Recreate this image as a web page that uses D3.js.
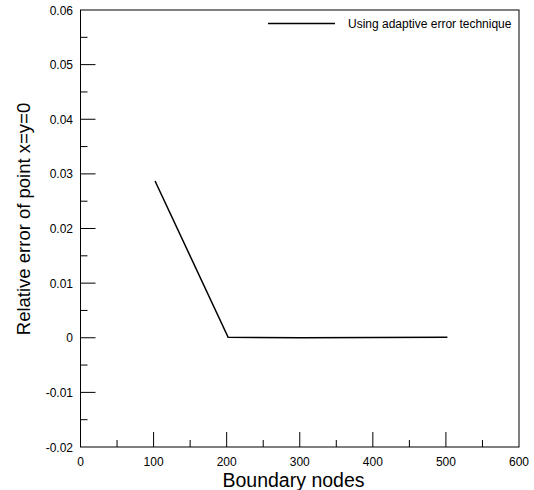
<!DOCTYPE html>
<html><head><meta charset="utf-8">
<script src="https://cdn.jsdelivr.net/npm/d3@7"></script>
<style>body{margin:0;background:#fff}svg{display:block;font-family:"Liberation Sans",Arial,sans-serif}</style>
</head><body><svg id="c" width="534" height="490"></svg>
<script>
const nodes = [102, 202, 302, 402, 502];
const relErr = [0.0287, 0.0001, 0.0000, 0.00005, 0.0001];
const xTicks = [0, 100, 200, 300, 400, 500, 600];
const yTicks = [-0.02, -0.01, 0, 0.01, 0.02, 0.03, 0.04, 0.05, 0.06];
const legendLabel = "Using adaptive error technique";

const svg = d3.select("#c");
const L = 80.5, R = 519, T = 10, B = 447;
const x = d3.scaleLinear().domain([0, 600]).range([L, R]);
const y = d3.scaleLinear().domain([-0.02, 0.06]).range([B, T]);
const fmt = d => d === 0 ? "0" : d3.format(".2f")(d).replace("\u2212", "-");

// frame
svg.append("rect").attr("x", L).attr("y", T).attr("width", R - L).attr("height", B - T)
  .attr("fill", "none").attr("stroke", "#000").attr("stroke-width", 1);

// x axis ticks (inward)
const xMinor = d3.range(50, 600, 100);
svg.append("g").selectAll("line").data(xTicks.slice(1, -1)).join("line")
  .attr("x1", d => x(d)).attr("x2", d => x(d)).attr("y1", B).attr("y2", B - 15)
  .attr("stroke", "#000");
svg.append("g").selectAll("line").data(xMinor).join("line")
  .attr("x1", d => x(d)).attr("x2", d => x(d)).attr("y1", B).attr("y2", B - 7)
  .attr("stroke", "#000");
svg.append("g").selectAll("text").data(xTicks).join("text")
  .attr("x", d => x(d)).attr("y", 466).attr("text-anchor", "middle")
  .attr("font-size", 12).text(d => d3.format("d")(d));

// y axis ticks
const yMinor = d3.range(-0.015, 0.06, 0.01);
svg.append("g").selectAll("line").data(yTicks.slice(1, -1)).join("line")
  .attr("x1", L).attr("x2", L + 15).attr("y1", d => y(d)).attr("y2", d => y(d))
  .attr("stroke", "#000");
svg.append("g").selectAll("line").data(yMinor).join("line")
  .attr("x1", L).attr("x2", L + 7).attr("y1", d => y(d)).attr("y2", d => y(d))
  .attr("stroke", "#000");
svg.append("g").selectAll("text").data(yTicks).join("text")
  .attr("x", 73).attr("y", d => y(d) + 4.5).attr("text-anchor", "end")
  .attr("font-size", 12).text(fmt);

// line
svg.append("path").datum(nodes.map((n, i) => [n, relErr[i]]))
  .attr("d", d3.line().x(d => x(d[0])).y(d => y(d[1])))
  .attr("fill", "none").attr("stroke", "#000").attr("stroke-width", 1.5);

// legend
svg.append("line").attr("x1", 268).attr("x2", 335).attr("y1", 23.5).attr("y2", 23.5)
  .attr("stroke", "#000").attr("stroke-width", 1.5);
svg.append("text").attr("x", 348).attr("y", 28).attr("font-size", 12).text(legendLabel);

// axis titles
svg.append("text").attr("x", 293.5).attr("y", 486.5).attr("text-anchor", "middle")
  .attr("font-size", 19.5).text("Boundary nodes");
svg.append("text").attr("transform", "translate(29.5,219) rotate(-90)")
  .attr("text-anchor", "middle").attr("font-size", 18.5).text("Relative error of point x=y=0");
</script></body></html>
